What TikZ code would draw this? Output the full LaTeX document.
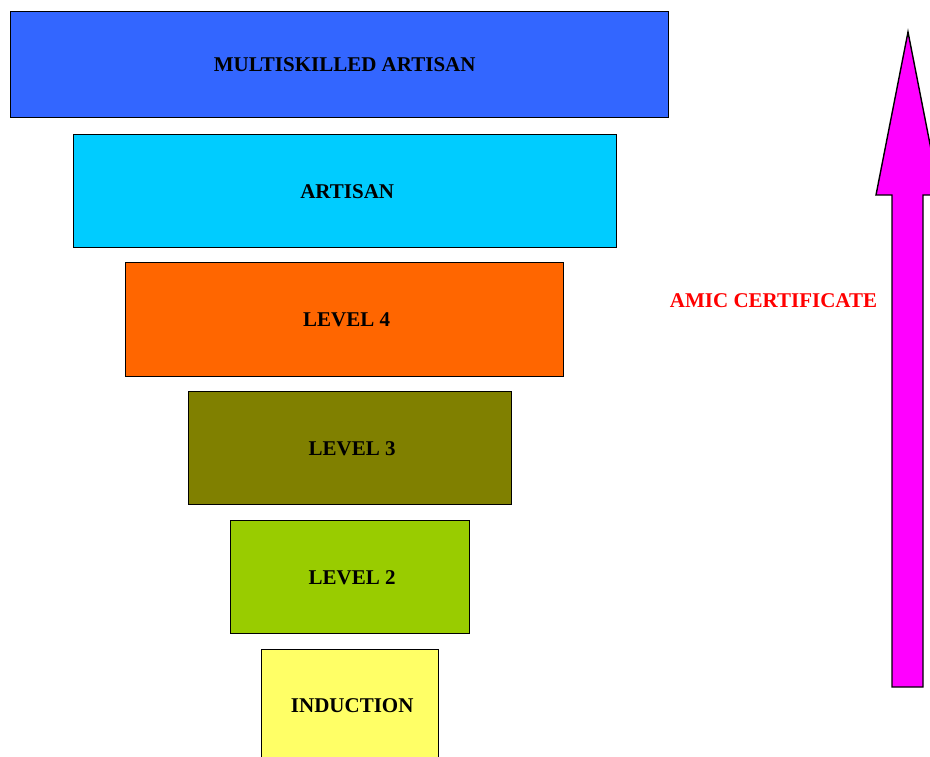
\documentclass[tikz,border=0pt]{standalone}
\usepackage{fontspec}
\setmainfont{Liberation Serif}
\begin{document}
\begin{tikzpicture}[x=1pt,y=-1pt,
  tier/.style={draw=black, line width=1.4pt, inner sep=0pt, anchor=north west,
    font=\fontsize{21}{24}\selectfont\bfseries, text=black},
  arrowbody/.style={draw=black, line width=1.4pt, fill=magentaFill, line join=miter}]
\definecolor{blueTier}{HTML}{3366FF}
\definecolor{cyanTier}{HTML}{00CCFF}
\definecolor{orangeTier}{HTML}{FF6600}
\definecolor{oliveTier}{HTML}{808000}
\definecolor{limeTier}{HTML}{99CC00}
\definecolor{yellowTier}{HTML}{FFFF66}
\definecolor{magentaFill}{HTML}{FF00FF}
\useasboundingbox (0,0) rectangle (930,756);
\clip (0,0) rectangle (930,756);
% stacked tiers, widest at the top
\node[tier, fill=blueTier,   minimum width=658pt, minimum height=106pt] (ms)  at (10,11)  {\raisebox{-3pt}{\hspace{10pt}MULTISKILLED ARTISAN}};
\node[tier, fill=cyanTier,   minimum width=543pt, minimum height=113pt] (art) at (73,134) {\hspace{4pt}ARTISAN};
\node[tier, fill=orangeTier, minimum width=438pt, minimum height=114pt] (l4)  at (125,262) {\hspace{4pt}LEVEL 4};
\node[tier, fill=oliveTier,  minimum width=323pt, minimum height=113pt] (l3)  at (188,391) {\hspace{4pt}LEVEL 3};
\node[tier, fill=limeTier,   minimum width=239pt, minimum height=113pt] (l2)  at (230,520) {\hspace{4pt}LEVEL 2};
\node[tier, fill=yellowTier, minimum width=177pt, minimum height=111pt] (ind) at (261,649) {\hspace{4pt}INDUCTION};
% certificate label and upward arrow
\node[font=\fontsize{21}{24}\selectfont\bfseries, text=red, inner sep=0pt] (cert) at (773.5,301) {AMIC CERTIFICATE};
\draw[arrowbody] (908,32) -- (940,195) -- (923,195) -- (923,687) -- (892,687) -- (892,195) -- (876,195) -- cycle;
\end{tikzpicture}
\end{document}
